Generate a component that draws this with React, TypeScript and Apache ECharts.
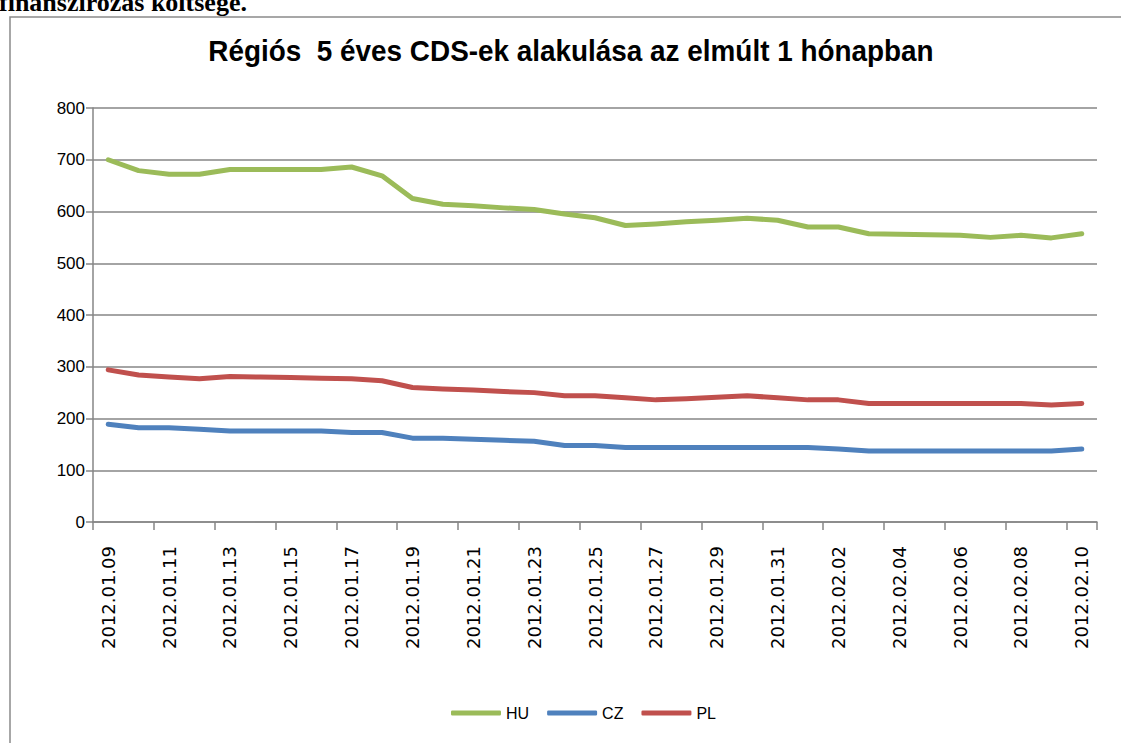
import React, { useEffect, useRef } from "react";
import * as echarts from "echarts";

const dates = [
  "2012.01.09", "2012.01.10", "2012.01.11", "2012.01.12", "2012.01.13", "2012.01.14",
  "2012.01.15", "2012.01.16", "2012.01.17", "2012.01.18", "2012.01.19", "2012.01.20",
  "2012.01.21", "2012.01.22", "2012.01.23", "2012.01.24", "2012.01.25", "2012.01.26",
  "2012.01.27", "2012.01.28", "2012.01.29", "2012.01.30", "2012.01.31", "2012.02.01",
  "2012.02.02", "2012.02.03", "2012.02.04", "2012.02.05", "2012.02.06", "2012.02.07",
  "2012.02.08", "2012.02.09", "2012.02.10",
];

const huValues = [
  700, 679, 672, 672, 681, 681, 681, 681, 686, 669, 625, 614, 611, 607, 604, 595, 588,
  573, 576, 580, 583, 587, 583, 570, 570, 557, 556, 555, 554, 550, 554, 549, 557,
];

const czValues = [
  189, 182, 182, 179, 176, 176, 176, 176, 173, 173, 162, 162, 160, 158, 156, 148, 148,
  144, 144, 144, 144, 144, 144, 144, 141, 137, 137, 137, 137, 137, 137, 137, 141,
];

const plValues = [
  294, 284, 280, 277, 281, 280, 279, 278, 277, 273, 260, 257, 255, 252, 250, 244, 244,
  240, 236, 238, 241, 244, 240, 236, 236, 229, 229, 229, 229, 229, 229, 226, 229,
];

const seriesNames = ["HU", "CZ", "PL"];
const seriesColors = ["#9BBB59", "#4F81BD", "#C0504D"];

const titleText = "Régiós  5 éves CDS-ek alakulása az elmúlt 1 hónapban";
const headerText = "finanszírozás költsége.";

export default function App() {
  const ref = useRef<HTMLDivElement>(null);

  useEffect(() => {
    if (!ref.current) return;
    const chart = echarts.init(ref.current, null, { renderer: "svg" });
    const valuesList = [huValues, czValues, plValues];
    chart.setOption({
      animation: false,
      backgroundColor: "#ffffff",
      graphic: [
        {
          type: "rect",
          shape: { x: 10, y: 17, width: 1130, height: 740 },
          style: { fill: "none", stroke: "#8a8a8a", lineWidth: 1.5 },
          silent: true,
        },
        {
          type: "text",
          x: -1,
          y: -11,
          style: {
            text: headerText,
            font: "bold 26px 'Liberation Serif', serif",
            fill: "#000000",
          },
          silent: true,
        },
        {
          type: "text",
          x: 571,
          y: 36,
          scaleX: 0.93,
          style: {
            text: titleText,
            font: "bold 30px 'Liberation Sans', Arial, sans-serif",
            fill: "#000000",
            align: "center",
          },
          silent: true,
        },
      ],
      legend: {
        left: 446,
        top: 700,
        itemWidth: 50,
        itemHeight: 5,
        itemGap: 18,
        icon: "roundRect",
        data: seriesNames,
        textStyle: {
          fontFamily: "'Liberation Sans', Arial, sans-serif",
          fontSize: 16,
          color: "#000000",
        },
      },
      grid: {
        left: 93,
        right: 24,
        top: 108,
        bottom: 221,
        containLabel: false,
      },
      xAxis: {
        type: "category",
        data: dates,
        boundaryGap: true,
        axisLine: { show: true, lineStyle: { color: "#868686", width: 1.5 } },
        axisTick: { show: true, interval: 1, length: 8, lineStyle: { color: "#868686", width: 1.5 } },
        axisLabel: {
          interval: 1,
          rotate: 90,
          margin: 24,
          fontFamily: "'DejaVu Sans', sans-serif",
          fontSize: 18,
          color: "#000000",
        },
        splitLine: { show: false },
      },
      yAxis: {
        type: "value",
        min: 0,
        max: 800,
        interval: 100,
        axisLine: { show: true, lineStyle: { color: "#868686", width: 1.5 } },
        axisTick: { show: true, length: 7, lineStyle: { color: "#868686", width: 1.5 } },
        axisLabel: {
          margin: 8,
          fontFamily: "'Liberation Sans', Arial, sans-serif",
          fontSize: 17,
          color: "#000000",
        },
        splitLine: { show: true, lineStyle: { color: "#868686", width: 1.5 } },
      },
      series: seriesNames.map((name, i) => ({
        name,
        type: "line",
        data: valuesList[i],
        symbol: "none",
        color: seriesColors[i],
        lineStyle: { color: seriesColors[i], width: 5, cap: "round", join: "round" },
        itemStyle: { color: seriesColors[i] },
      })),
    });
    return () => chart.dispose();
  }, []);

  return (
    <div
      ref={ref}
      style={{ position: "fixed", left: 0, top: 0, width: 1121, height: 743 }}
    />
  );
}
